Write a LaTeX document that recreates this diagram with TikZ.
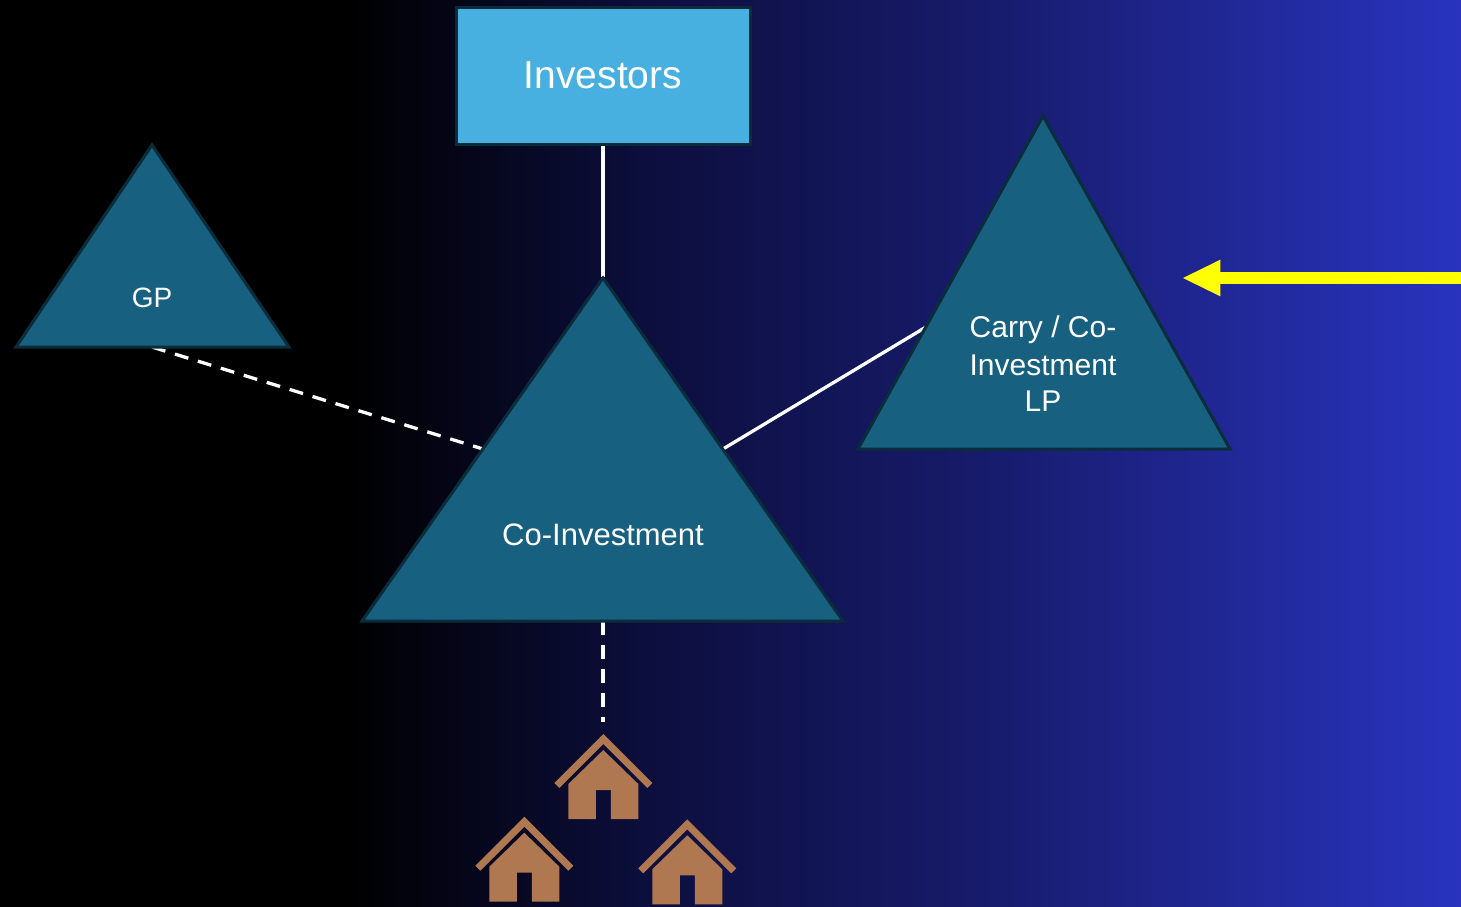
\documentclass[tikz,border=0pt]{standalone}
\usepackage{fontspec}
\setmainfont{Liberation Sans}
\usetikzlibrary{arrows.meta}
\definecolor{tri}{HTML}{17607F}
\definecolor{triedge}{HTML}{0B2C3B}
\definecolor{invfill}{HTML}{47B0E0}
\definecolor{invedge}{HTML}{0B2A3A}
\definecolor{housec}{HTML}{B07850}
\definecolor{bgA}{HTML}{0C0E3C}
\definecolor{bgB}{HTML}{181C6E}
\definecolor{bgC}{HTML}{2934C0}
\definecolor{arrowc}{HTML}{FFFF00}
\begin{document}
\begin{tikzpicture}[x=1pt,y=-1pt,
  trishape/.style={fill=tri,draw=triedge,line width=3pt,line join=miter},
  lbl/.style={text=white,anchor=base,inner sep=0pt},
  link/.style={draw=white,line width=3.3pt},
  dlink/.style={link,dash pattern=on 14pt off 10pt},
  house/.pic={
    \fill[housec] (0,0) -- (49,49) -- (44,54) -- (0,10) -- (-44,54) -- (-49,49) -- cycle;
    \fill[housec] (0,16) -- (35,50) -- (35,85) -- (7.5,85) -- (7.5,56) -- (-7.5,56) -- (-7.5,85) -- (-35,85) -- (-35,50) -- cycle;
  }]
\useasboundingbox (0,0) rectangle (1461,906);
% background
\fill[black] (-10,-10) rectangle (346,916);
\shade[left color=black,right color=bgA] (345,-10) rectangle (641,916);
\shade[left color=bgA,right color=bgB] (640,-10) rectangle (1001,916);
\shade[left color=bgB,right color=bgC] (1000,-10) rectangle (1471,916);

% key points
\coordinate (gpbase) at (152,347);
\coordinate (coapex) at (603,277);
\coordinate (coleft) at (483,449);
\coordinate (coright) at (723,449);
\coordinate (cobottom) at (603,621);
\coordinate (carryleft) at (926,327);
\coordinate (housetop) at (603,722);
\coordinate (arrowtail) at (1471,278);
\coordinate (arrowtip) at (1183,278);

% investors box
\node[draw=invedge,fill=invfill,line width=3pt,minimum width=294pt,minimum height=137pt,inner sep=0pt,
      text=white,font=\fontsize{39}{47}\selectfont] (inv) at (603,75.5) {Investors};

% connectors
\draw[link] (inv.south) -- (coapex);
\draw[dlink] (gpbase) -- (coleft);
\draw[link] (coright) -- (carryleft);
\draw[dlink] (cobottom) -- (housetop);
\draw[draw=arrowc,line width=12.6pt,-{Triangle[length=37.4pt,width=36.7pt,line width=0pt]}] (arrowtail) -- (arrowtip);

% triangles
\draw[trishape] (152,145) -- (289,347) -- (16,347) -- cycle;
\draw[trishape] (603,278) -- (843,621) -- (362,621) -- cycle;
\draw[trishape] (1043,116) -- (1230,449) -- (858,449) -- cycle;

% labels
\node[lbl,font=\fontsize{28}{34}\selectfont] (gp) at (152,307) {GP};
\node[lbl,font=\fontsize{31}{37}\selectfont] (co) at (603,545) {Co-Investment};
\node[lbl,font=\fontsize{30}{37}\selectfont] (carry1) at (1043,337.7) {Carry / Co-};
\node[lbl,font=\fontsize{30}{37}\selectfont] (carry2) at (1043,375) {Investment};
\node[lbl,font=\fontsize{30}{37}\selectfont] (carry3) at (1043,411.7) {LP};

% houses
\pic (h1) at (603.3,734) {house};
\pic (h2) at (524.3,816.7) {house};
\pic (h3) at (687.3,819.3) {house};
\end{tikzpicture}
\end{document}
